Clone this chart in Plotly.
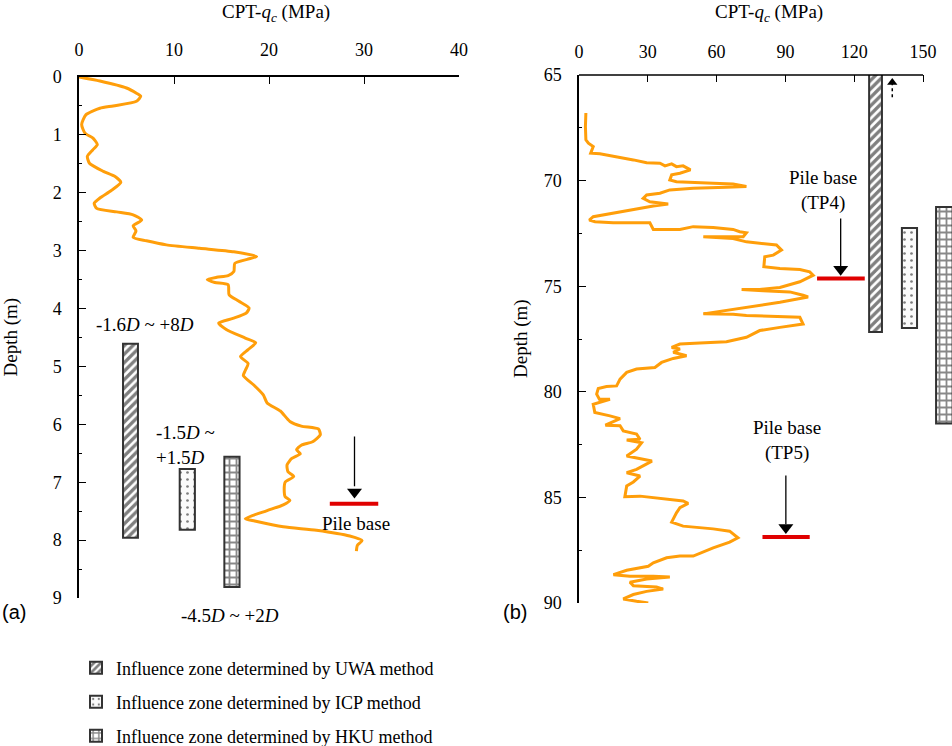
import plotly.graph_objects as go

# ---------------- data ----------------
# Panel (a): CPT cone resistance profile
qc_a = [0, 2.2, 5.0, 6.05, 6.5, 6.05, 3.6, 2.2, 0.74, 0.28,
        0.63, 1.5, 1.93, 1.44, 0.88, 1.1, 2.56, 3.8, 4.4, 3.4,
        2.2, 1.6, 1.86, 3.97, 5.7, 6.6, 5.7, 6.0, 5.7, 7.1,
        9.2, 12.7, 16.3, 18.7, 17.7, 16.4, 16.3, 15.7, 14.5, 13.5,
        14.3, 15.7, 15.8, 16.8, 17.9, 17.6, 16.2, 14.7, 15.5, 17.5,
        18.6, 17.8, 17.0, 17.8, 17.5, 17.3, 18.4, 19.4, 19.8, 21.2,
        22.2, 23.4, 25.2, 25.4, 24.6, 23.4, 22.9, 23.3, 22.4, 21.9,
        22.0, 22.6, 21.7, 21.6, 21.7, 22.2, 21.5, 19.8, 17.5, 18.5,
        21.5, 25.0, 28.5, 29.8, 29.3, 29.2]
depth_a = [0, 0.07, 0.19, 0.28, 0.33, 0.42, 0.5, 0.54, 0.65, 0.82,
           0.97, 1.06, 1.17, 1.26, 1.37, 1.49, 1.63, 1.72, 1.82, 1.96,
           2.09, 2.18, 2.27, 2.33, 2.38, 2.47, 2.57, 2.66, 2.77, 2.83,
           2.9, 2.96, 3.02, 3.10, 3.15, 3.22, 3.36, 3.43, 3.46, 3.5,
           3.55, 3.59, 3.76, 3.87, 3.99, 4.08, 4.17, 4.25, 4.36, 4.51,
           4.59, 4.71, 4.83, 4.95, 5.07, 5.16, 5.32, 5.49, 5.63, 5.77,
           5.95, 6.03, 6.08, 6.18, 6.3, 6.36, 6.44, 6.51, 6.59, 6.7,
           6.82, 6.9, 7.0, 7.13, 7.25, 7.31, 7.39, 7.49, 7.63, 7.67,
           7.77, 7.83, 7.93, 8.01, 8.09, 8.19]

# Panel (b): CPT cone resistance profile
qc_b = [3.0, 2.8, 3.0, 4.1, 6.2, 5.1, 9.1, 16.4, 23.7, 29.5,
        35.3, 37.5, 40.4, 42.5, 45.4, 48.6, 44.0, 40.4, 39.6, 42.5,
        49.8, 58.5, 67.2, 73.0, 64.3, 49.8, 39.6, 35.3, 29.5, 28.0,
        30.9, 38.9, 32.4, 26.6, 17.9, 10.6, 6.2, 4.5, 7.0, 14.9,
        30.9, 32.4, 44.0, 49.8, 58.5, 67.2, 70.1, 73.0, 71.6, 54.2,
        58.5, 67.2, 73.0, 80.3, 86.1, 88.3, 84.7, 81.0, 80.6, 87.6,
        96.3, 100.6, 102.1, 96.3, 87.6, 78.8, 70.9, 80.3, 91.9, 97.7, 99.9,
        87.6, 73.0, 54.2, 67.2, 73.0, 96.3, 97.7, 87.6, 78.8, 73.0,
        64.3, 52.7, 44.0, 40.4, 44.0, 41.1, 46.9, 41.1, 36.0, 33.1,
        25.1, 20.8, 17.9, 16.4, 12.0, 8.4, 7.7, 8.9, 13.5, 6.2,
        6.9, 13.5, 17.9, 11.5, 17.9, 19.3, 25.1, 26.6, 20.8, 27.3,
        25.1, 20.8, 28.0, 31.8, 25.1, 20.8, 26.6, 23.7, 20.8, 20.0,
        26.6, 40.4, 45.4, 47.6, 44.0, 42.5, 40.4, 45.4, 58.5, 65.7,
        69.3, 65.7, 58.5, 49.8, 44.0, 38.2, 32.4, 30.2, 26.6, 20.8,
        15.0, 22.2, 32.4, 39.6, 29.5, 22.2, 23.7, 33.8, 36.7, 29.5,
        23.7, 19.3, 25.1, 30.2]
depth_b = [66.8, 67.44, 68.07, 68.23, 68.39, 68.7, 68.73, 68.86, 69.02, 69.15,
           69.18, 69.3, 69.21, 69.34, 69.3, 69.49, 69.65, 69.73, 69.97, 70.05,
           70.1, 70.13, 70.16, 70.28, 70.32, 70.36, 70.44, 70.6, 70.68, 70.84,
           71.0, 71.11, 71.2, 71.31, 71.47, 71.63, 71.71, 71.87, 71.95, 72.0,
           72.0, 72.31, 72.31, 72.18, 72.22, 72.31, 72.42, 72.47, 72.66, 72.66,
           72.69, 72.74, 72.9, 72.97, 73.05, 73.29, 73.53, 73.61, 74.08, 74.16,
           74.21, 74.32, 74.48, 74.79, 75.06, 75.16, 75.16, 75.22, 75.27, 75.43, 75.51,
           75.76, 76.0, 76.31, 76.33, 76.39, 76.47, 76.79, 76.95, 77.1, 77.42,
           77.63, 77.69, 77.74, 77.9, 77.97, 78.13, 78.29, 78.42, 78.61, 78.85,
           78.92, 79.08, 79.4, 79.72, 79.75, 79.84, 80.11, 80.35, 80.35, 80.59,
           80.98, 81.14, 81.27, 81.58, 81.61, 81.85, 82.0, 82.25, 82.28, 82.41,
           82.72, 83.04, 83.2, 83.28, 83.67, 83.83, 83.99, 84.27, 84.46, 84.97,
           84.94, 85.09, 85.17, 85.28, 85.49, 85.73, 86.17, 86.36, 86.49, 86.6,
           86.91, 87.12, 87.39, 87.78, 87.78, 87.86, 88.1, 88.26, 88.34, 88.45,
           88.66, 88.73, 88.73, 88.77, 88.86, 89.02, 89.18, 89.24, 89.34, 89.45,
           89.6, 89.81, 89.92, 90.0]

# Influence zones (UWA, ICP, HKU)
zone_names = ["Influence zone determined by UWA method",
              "Influence zone determined by ICP method",
              "Influence zone determined by HKU method"]
zone_a_x = [5.42, 11.4, 16.1]
zone_a_w = [1.57, 1.6, 1.6]
zone_a_top = [4.61, 6.77, 6.56]
zone_a_bot = [7.96, 7.82, 8.81]
zone_a_labels = ["-1.6<i>D</i> ~ +8<i>D</i>", "-1.5<i>D</i> ~<br>+1.5<i>D</i>", "-4.5<i>D</i> ~ +2<i>D</i>"]

zone_b_x = [129.3, 144.1, 159.3]
zone_b_w = [5.6, 6.6, 7.2]
zone_b_top = [64.85, 72.24, 71.25]
zone_b_bot = [77.17, 76.98, 81.5]

# Pile bases
pile_a_depth = 7.37
pile_a_x = [26.4, 31.5]
pile_a_arrow_x = 29.0
pile_a_arrow_top = 6.21

pile_b_names = ["Pile base<br>(TP4)", "Pile base<br>(TP5)"]
pile_b_depth = [74.64, 86.87]
pile_b_x0 = [103.8, 80.0]
pile_b_x1 = [124.6, 100.6]
pile_b_arrow_x = [114.1, 90.2]
pile_b_arrow_top = [71.79, 83.96]
pile_b_label_x = [106.6, 90.7]
pile_b_label_depth = [70.45, 82.3]

# UWA zone continues above 65 m (dotted arrow)
uwa_up_x = 136.6
uwa_up_depth = [66.05, 65.35]

xticks_a = [0, 10, 20, 30, 40]
yticks_a = list(range(0, 10))
xticks_b = [0, 30, 60, 90, 120, 150]
yticks_b = [65, 70, 75, 80, 85, 90]

# ---------------- style ----------------
W, H = 952, 746
SERIF = "Liberation Serif, Times New Roman, serif"
SANS = "Liberation Sans, Arial, sans-serif"
ORANGE = "#FF9E0A"
RED = "#E00000"


def px(x):
    return x / W


def py(y):
    return 1 - y / H


A_X = [79, 459]
A_Y = [77, 598]
B_X = [579, 952]
B_Y = [75, 603]

patterns = [
    dict(shape="/", fgcolor="#000000", bgcolor="white", size=6, solidity=0.55),
    dict(shape=".", fgcolor="#000000", bgcolor="#fafafa", size=7, solidity=0.12),
    dict(shape="+", fgcolor="#111111", bgcolor="white", size=7, solidity=0.45),
]
legend_ids = ["legend", "legend2", "legend3"]

fig = go.Figure()

# CPT curves
fig.add_trace(go.Scatter(x=qc_a, y=depth_a, mode="lines",
                         line=dict(color=ORANGE, width=3, shape="spline", smoothing=0.6),
                         xaxis="x", yaxis="y", showlegend=False, hoverinfo="skip"))
fig.add_trace(go.Scatter(x=qc_b, y=depth_b, mode="lines", line=dict(color=ORANGE, width=3),
                         xaxis="x2", yaxis="y2", showlegend=False, hoverinfo="skip"))

# Zones
for i in range(3):
    fig.add_trace(go.Bar(
        x=[zone_a_x[i]], y=[zone_a_bot[i] - zone_a_top[i]], base=[zone_a_top[i]],
        width=[zone_a_w[i]], xaxis="x", yaxis="y", name=zone_names[i],
        marker=dict(color="white", pattern=patterns[i], line=dict(color="#333333", width=2)),
        showlegend=True, legend=legend_ids[i], hoverinfo="skip"))
    fig.add_trace(go.Bar(
        x=[zone_b_x[i]], y=[zone_b_bot[i] - zone_b_top[i]], base=[zone_b_top[i]],
        width=[zone_b_w[i]], xaxis="x2", yaxis="y2", name=zone_names[i],
        marker=dict(color="white", pattern=patterns[i], line=dict(color="#333333", width=2)),
        showlegend=False, cliponaxis=False, hoverinfo="skip"))

# Pile base lines
fig.add_trace(go.Scatter(x=pile_a_x, y=[pile_a_depth, pile_a_depth], mode="lines",
                         line=dict(color=RED, width=4), xaxis="x", yaxis="y",
                         showlegend=False, hoverinfo="skip"))
for i in range(2):
    fig.add_trace(go.Scatter(x=[pile_b_x0[i], pile_b_x1[i]], y=[pile_b_depth[i], pile_b_depth[i]],
                             mode="lines", line=dict(color=RED, width=4), xaxis="x2", yaxis="y2",
                             showlegend=False, hoverinfo="skip"))

# Pile-base arrows: shafts + heads
fig.add_trace(go.Scatter(x=[pile_a_arrow_x, pile_a_arrow_x], y=[pile_a_arrow_top, pile_a_depth - 0.3],
                         mode="lines", line=dict(color="black", width=1.3), xaxis="x", yaxis="y",
                         showlegend=False, hoverinfo="skip"))
fig.add_trace(go.Scatter(x=[pile_a_arrow_x], y=[pile_a_depth - 0.2], mode="markers",
                         marker=dict(symbol="triangle-down", size=13, color="black"),
                         xaxis="x", yaxis="y", showlegend=False, hoverinfo="skip"))
for i in range(2):
    fig.add_trace(go.Scatter(x=[pile_b_arrow_x[i], pile_b_arrow_x[i]],
                             y=[pile_b_arrow_top[i], pile_b_depth[i] - 0.6],
                             mode="lines", line=dict(color="black", width=1.3), xaxis="x2", yaxis="y2",
                             showlegend=False, hoverinfo="skip"))
    fig.add_trace(go.Scatter(x=[pile_b_arrow_x[i]], y=[pile_b_depth[i] - 0.44], mode="markers",
                             marker=dict(symbol="triangle-down", size=13, color="black"),
                             xaxis="x2", yaxis="y2", showlegend=False, hoverinfo="skip"))

# Dotted upward arrow (panel b)
fig.add_trace(go.Scatter(x=[uwa_up_x, uwa_up_x], y=uwa_up_depth, mode="lines",
                         line=dict(color="black", width=1.5, dash="dot"), xaxis="x2", yaxis="y2",
                         showlegend=False, hoverinfo="skip", cliponaxis=False))
fig.add_trace(go.Scatter(x=[uwa_up_x], y=[uwa_up_depth[1]], mode="markers",
                         marker=dict(symbol="triangle-up", size=9, color="black"),
                         xaxis="x2", yaxis="y2", showlegend=False, hoverinfo="skip", cliponaxis=False))

afont = dict(family=SERIF, size=19, color="black")
annotations = []
for i in range(2):
    annotations.append(dict(x=pile_b_label_x[i], y=pile_b_label_depth[i], xref="x2", yref="y2",
                            xanchor="center", yanchor="middle",
                            text=pile_b_names[i], showarrow=False, font=afont))

annotations.append(dict(x=29.2, y=7.71, xref="x", yref="y", text="Pile base", showarrow=False,
                        xanchor="center", yanchor="middle", font=afont))
# zone labels
annotations.append(dict(x=6.9, y=4.27, xref="x", yref="y", text=zone_a_labels[0], showarrow=False,
                        xanchor="center", yanchor="middle", font=afont))
annotations.append(dict(x=7.9, y=6.35, xref="x", yref="y", text=zone_a_labels[1], showarrow=False,
                        xanchor="left", yanchor="middle", align="left", font=afont))
annotations.append(dict(x=15.9, y=py(615), xref="x", yref="paper", text=zone_a_labels[2], showarrow=False,
                        xanchor="center", yanchor="middle", font=afont))

# axis titles
for cx in [(A_X[0] + A_X[1]) / 2 + 7, (B_X[0] + B_X[1]) / 2 + 3]:
    annotations.append(dict(x=px(cx), y=py(13), xref="paper", yref="paper",
                            xanchor="center", yanchor="middle",
                            text="CPT-<i>q</i><sub><i>c</i></sub> (MPa)", showarrow=False, font=afont))
for cx, cy in [(10, (A_Y[0] + A_Y[1]) / 2), (521, (B_Y[0] + B_Y[1]) / 2)]:
    annotations.append(dict(x=px(cx), y=py(cy), xref="paper", yref="paper", text="Depth (m)",
                            xanchor="center", yanchor="middle",
                            textangle=-90, showarrow=False, font=afont))
# panel labels
for cx, lab in [(14, "(a)"), (515, "(b)")]:
    annotations.append(dict(x=px(cx), y=py(612), xref="paper", yref="paper", text=lab, showarrow=False,
                            xanchor="center", yanchor="middle",
                            font=dict(family=SANS, size=20, color="black")))

tickfont = dict(family=SERIF, size=18, color="black")
common_x = dict(side="top", showgrid=False, zeroline=False, ticks="inside", ticklen=7, tickwidth=1.3,
                tickcolor="black", tickfont=tickfont, ticklabelstandoff=12, automargin=False)
common_y = dict(showgrid=False, zeroline=False, ticks="inside", ticklen=7, tickwidth=1.3,
                tickcolor="black", tickfont=tickfont, ticklabelstandoff=12, showline=True,
                linecolor="black", linewidth=1.5, automargin=False)

legends = {}
for i, lid in enumerate(legend_ids):
    legends[lid] = dict(x=px(76), y=py([668, 702, 736][i]), xanchor="left", yanchor="middle",
                        font=dict(family=SERIF, size=18, color="black"), bgcolor="rgba(0,0,0,0)",
                        itemsizing="constant")

fig.update_layout(
    width=W, height=H, margin=dict(l=0, r=0, t=0, b=0, autoexpand=False),
    paper_bgcolor="white", plot_bgcolor="rgba(0,0,0,0)", barmode="overlay",
    xaxis=dict(domain=[px(A_X[0]), px(A_X[1])], range=[0, 40], tickvals=xticks_a, anchor="y",
               showline=True, linecolor="black", linewidth=1.5, **common_x),
    yaxis=dict(domain=[py(A_Y[1]), py(A_Y[0])], range=[9, 0], tickvals=yticks_a, anchor="x",
               minor=dict(ticks="inside", ticklen=3, dtick=0.5, tickcolor="black"), **common_y),
    xaxis2=dict(domain=[px(B_X[0]), px(B_X[1])], range=[0, (B_X[1] - B_X[0]) / ((923 - 579) / 150)],
                tickvals=xticks_b, anchor="y2", showline=False, **common_x),
    yaxis2=dict(domain=[py(B_Y[1]), py(B_Y[0])], range=[90, 65], tickvals=yticks_b, anchor="x2",
                minor=dict(ticks="inside", ticklen=3, dtick=2.5, tickcolor="black"), **common_y),
    annotations=annotations,
    shapes=[dict(type="line", xref="x2", yref="paper", x0=0, x1=xticks_b[-1],
                 y0=py(B_Y[0]), y1=py(B_Y[0]), line=dict(color="black", width=1.5))],
    **legends,
)

fig.write_html("out.html", config={"displayModeBar": False},
               post_script="document.body.style.margin='0px';document.body.style.overflow='hidden';")
